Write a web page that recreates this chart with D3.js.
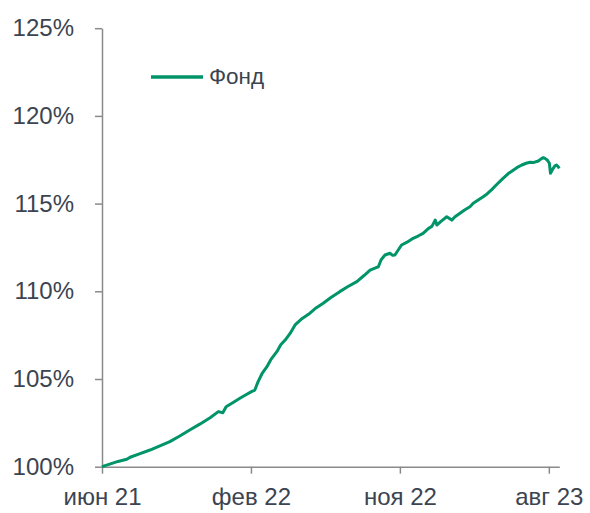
<!DOCTYPE html>
<html><head><meta charset="utf-8">
<script src="https://cdn.jsdelivr.net/npm/d3@7"></script>
<style>
html,body{margin:0;padding:0;background:#fff;}
svg{display:block;}
</style></head>
<body>
<svg id="chart" width="590" height="513"></svg>
<script>
const seriesName = "Фонд";
const dates = ["2021-06-01","2021-06-15","2021-06-30","2021-07-16","2021-07-22","2021-08-09","2021-08-27","2021-09-14","2021-10-02","2021-10-20","2021-11-07","2021-11-26","2021-12-14","2021-12-29","2022-01-06","2022-01-12","2022-01-24","2022-02-06","2022-02-17","2022-02-27","2022-03-05","2022-03-11","2022-03-18","2022-03-27","2022-04-03","2022-04-14","2022-04-21","2022-04-29","2022-05-08","2022-05-17","2022-05-30","2022-06-13","2022-06-24","2022-07-07","2022-07-21","2022-08-06","2022-08-21","2022-09-06","2022-09-19","2022-09-30","2022-10-11","2022-10-15","2022-10-20","2022-10-27","2022-11-05","2022-11-10","2022-11-14","2022-11-26","2022-12-06","2022-12-17","2022-12-26","2023-01-04","2023-01-14","2023-01-20","2023-01-26","2023-01-29","2023-02-06","2023-02-16","2023-02-25","2023-03-03","2023-03-12","2023-03-21","2023-03-30","2023-04-05","2023-04-14","2023-04-23","2023-04-30","2023-05-08","2023-05-18","2023-05-29","2023-06-07","2023-06-17","2023-06-23","2023-07-02","2023-07-10","2023-07-17","2023-07-24","2023-08-01","2023-08-06","2023-08-10","2023-08-13","2023-08-17","2023-08-21","2023-08-23","2023-08-26","2023-08-28","2023-08-31","2023-09-03","2023-09-06","2023-09-08"];
const values = [100.00,100.15,100.30,100.42,100.54,100.75,100.95,101.19,101.43,101.75,102.09,102.44,102.79,103.14,103.08,103.42,103.65,103.90,104.10,104.28,104.37,104.85,105.30,105.70,106.10,106.56,106.95,107.22,107.60,108.08,108.45,108.75,109.05,109.32,109.65,109.98,110.27,110.55,110.90,111.21,111.35,111.40,111.80,112.07,112.17,112.05,112.07,112.64,112.80,113.02,113.15,113.30,113.59,113.70,114.06,113.78,114.00,114.25,114.06,114.25,114.45,114.65,114.82,115.02,115.20,115.39,115.55,115.78,116.10,116.44,116.70,116.92,117.05,117.20,117.30,117.36,117.35,117.43,117.55,117.62,117.58,117.49,117.30,116.73,116.90,117.01,117.15,117.20,117.10,117.01];
const yTicks = [100,105,110,115,120,125];
const xTickDates = ["2021-06-01","2022-02-26","2022-11-23","2023-08-20"];
const xTickLabels = ["июн 21","фев 22","ноя 22","авг 23"];
const xDomain = ["2021-06-01","2023-09-08"];

const parse = d3.utcParse("%Y-%m-%d");
const data = dates.map((d,i)=>({date:parse(d), value:values[i]}));

const svg = d3.select("#chart");
const FONT = "'Liberation Sans', Arial, sans-serif";
const TEXT = "#3b4450";
const AXIS = "#8a8a8a";
const GREEN = "#009468";

const x = d3.scaleUtc().domain(xDomain.map(parse)).range([102, 559.3]);
const y = d3.scaleLinear().domain([100,125]).range([466.7, 28.2]);

// Y axis
const yAxis = d3.axisLeft(y).tickValues(yTicks).tickSize(7).tickSizeOuter(0).tickPadding(21)
  .tickFormat(d=>d+"%");
const gy = svg.append("g").attr("transform","translate(102,0)").call(yAxis);
gy.select(".domain").attr("stroke",AXIS).attr("stroke-width",1.5);
gy.selectAll(".tick line").attr("stroke",AXIS).attr("stroke-width",1.5);
gy.selectAll(".tick text").attr("fill",TEXT).style("font-family",FONT).style("font-size","24px");

// X axis
const xAxis = d3.axisBottom(x).tickValues(xTickDates.map(parse)).tickSize(7).tickSizeOuter(0).tickPadding(14)
  .tickFormat((d,i)=>xTickLabels[i]);
const gx = svg.append("g").attr("transform","translate(0,466.7)").call(xAxis);
gx.select(".domain").attr("stroke",AXIS).attr("stroke-width",1.5);
gx.selectAll(".tick line").attr("stroke",AXIS).attr("stroke-width",1.5);
gx.selectAll(".tick text").attr("fill",TEXT).style("font-family",FONT).style("font-size","24px");

// Line
const line = d3.line().x(d=>x(d.date)).y(d=>y(d.value));
svg.append("path").datum(data).attr("d",line).attr("fill","none")
  .attr("stroke",GREEN).attr("stroke-width",3).attr("stroke-linejoin","round");

// Legend
const lg = svg.append("g");
lg.append("line").attr("x1",151).attr("x2",203).attr("y1",77).attr("y2",77)
  .attr("stroke",GREEN).attr("stroke-width",3.5);
lg.append("text").attr("x",209).attr("y",84).text(seriesName)
  .attr("fill",TEXT).style("font-family",FONT).style("font-size","22.5px");
</script>
</body></html>
